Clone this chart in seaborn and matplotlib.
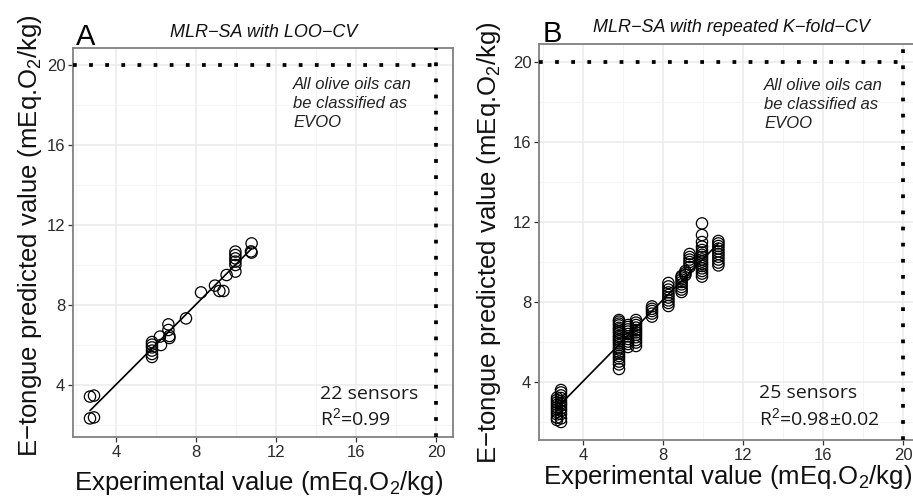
import numpy as np
import pandas as pd
import matplotlib
matplotlib.use("Agg")
import matplotlib.pyplot as plt
import seaborn as sns

# ---------------- data ----------------
# Panel A: MLR-SA with LOO-CV (experimental vs predicted)
loo_x = [2.7, 2.9, 2.7, 2.9,
         5.8, 5.8, 5.8, 5.8, 5.8, 5.8,
         6.2, 6.25, 6.62, 6.62, 6.67, 6.67,
         7.5, 8.25, 8.95, 9.17, 9.37, 9.53,
         9.97, 9.97, 9.97, 9.97, 9.97, 9.97,
         10.78, 10.78, 10.75]
loo_y = [3.42, 3.47, 2.33, 2.38,
         6.15, 6.02, 5.88, 5.72, 5.55, 5.4,
         6.42, 6.0, 7.03, 6.75, 6.45, 6.35,
         7.33, 8.63, 8.97, 8.7, 8.7, 9.5,
         10.67, 10.5, 10.33, 10.17, 10.0, 9.67,
         11.08, 10.62, 10.68]

# Panel B: MLR-SA with repeated K-fold-CV (values per oil column)
kf_x_levels = [2.7, 2.9, 5.8, 6.25, 6.65, 7.45, 8.27, 8.93, 9.12, 9.33, 9.95, 10.77]
kf_y_cols = [
    [2.1, 2.22, 2.38, 2.5, 2.63, 2.74, 2.86, 2.98, 3.1, 3.22],
    [2.0, 2.18, 2.4, 2.56, 2.68, 2.82, 2.93, 3.05, 3.2, 3.33, 3.48, 3.6],
    [4.65, 4.88, 5.02, 5.18, 5.3, 5.42, 5.51, 5.63, 5.72, 5.84, 5.93,
     6.04, 6.12, 6.23, 6.31, 6.44, 6.52, 6.63, 6.71, 6.83, 6.92, 7.02, 7.1],
    [5.75, 5.9, 6.02, 6.15, 6.28, 6.4, 6.52, 6.63, 6.75, 6.85],
    [5.8, 5.97, 6.1, 6.24, 6.36, 6.48, 6.6, 6.72, 6.85, 6.97, 7.1],
    [7.27, 7.42, 7.55, 7.66, 7.78],
    [7.8, 7.95, 8.08, 8.22, 8.35, 8.48, 8.62, 8.78, 8.95],
    [8.5, 8.62, 8.75, 8.88, 9.0, 9.12, 9.22, 9.3],
    [9.35, 9.45, 9.55],
    [9.75, 9.88, 10.0, 10.12, 10.25, 10.4],
    [9.27, 9.42, 9.55, 9.68, 9.8, 9.9, 10.02, 10.13, 10.25, 10.36,
     10.48, 10.6, 10.77, 11.0, 11.35, 11.93],
    [9.83, 9.97, 10.12, 10.26, 10.4, 10.53, 10.67, 10.8, 10.93, 11.05],
]

ticks = [4, 8, 12, 16, 20]
minor_ticks = [2, 6, 10, 14, 18]
threshold = 20

titles = ["MLR−SA with LOO−CV", "MLR−SA with repeated K−fold−CV"]
panel_letters = ["A", "B"]
note_text = "All olive oils can\nbe classified as\nEVOO"
sensor_text = ["22 sensors", "25 sensors"]
r2_text = ["R$^{2}$=0.99", "R$^{2}$=0.98±0.02"]
xlabel = "Experimental value (mEq.O$_{2}$/kg)"
ylabel = "E−tongue predicted value (mEq.O$_{2}$/kg)"

kf_x = [x for x, col in zip(kf_x_levels, kf_y_cols) for _ in col]
kf_y = [y for col in kf_y_cols for y in col]

df_a = pd.DataFrame({"exp": loo_x, "pred": loo_y})
df_b = pd.DataFrame({"exp": kf_x, "pred": kf_y})

# ---------------- style ----------------
sns.set_style("white")
plt.rcParams["font.family"] = ["Liberation Sans", "DejaVu Sans"]
plt.rcParams["mathtext.fontset"] = "custom"
plt.rcParams["mathtext.rm"] = "Liberation Sans"
plt.rcParams["mathtext.it"] = "Liberation Sans:italic"

fig = plt.figure(figsize=(9.13, 4.96), dpi=100)
ax_a = fig.add_axes([73 / 913, 1 - 437 / 496, 380 / 913, 389 / 496])
ax_b = fig.add_axes([539 / 913, 1 - 440 / 496, 381 / 913, 396 / 496])

limits = [((1.85, 20.85), (1.4, 20.85)), ((1.8, 20.85), (1.1, 20.9))]
note_pos = [(12.85, 19.4), (13.05, 19.2)]
sens_pos = [(14.2, 3.3, 1.97), (12.78, 3.18, 1.85)]

for i, (ax, df) in enumerate([(ax_a, df_a), (ax_b, df_b)]):
    xl, yl = limits[i]
    ax.set_xlim(*xl)
    ax.set_ylim(*yl)
    ax.set_xticks(ticks)
    ax.set_yticks(ticks)
    ax.set_xticks(minor_ticks, minor=True)
    ax.set_yticks(minor_ticks, minor=True)
    ax.grid(True, which="major", color="#ebebeb", lw=1.1, zorder=0)
    ax.grid(True, which="minor", color="#f4f4f4", lw=0.7, zorder=0)
    ax.set_axisbelow(True)
    ax.tick_params(which="major", direction="out", length=3.5, width=0.9,
                   color="#333333", labelcolor="#2a2a2a", labelsize=12, pad=2,
                   bottom=True, left=True)
    ax.tick_params(which="minor", length=0)
    for sp in ax.spines.values():
        sp.set_color("#808080")
        sp.set_linewidth(1.3)

    # threshold dotted lines
    ax.plot([xl[0], threshold], [threshold, threshold], color="black", lw=2.7,
            linestyle=(0, (1, 3.3)), dash_capstyle="butt", zorder=3, clip_on=False)
    ax.axvline(threshold, color="black", lw=2.7, linestyle=(0, (1, 3.3)),
               dash_capstyle="butt", zorder=3)

    sns.scatterplot(data=df, x="exp", y="pred", ax=ax, marker="o", s=66,
                    facecolors="none", edgecolor="black", linewidth=0.9,
                    zorder=4, legend=False)
    sns.regplot(data=df, x="exp", y="pred", ax=ax, scatter=False, ci=None,
                line_kws=dict(color="black", lw=1.2, zorder=5))
    ax.set_xlabel("")
    ax.set_ylabel("")

    ax.text(note_pos[i][0], note_pos[i][1], note_text, ha="left", va="top",
            fontsize=12, style="italic", color="#222222", linespacing=1.32)
    sx, sy1, sy2 = sens_pos[i]
    ax.text(sx, sy1, sensor_text[i], ha="left", va="baseline", fontsize=14,
            family=["Open Sans", "DejaVu Sans"], color="#1a1a1a")
    ax.text(sx, sy2, r2_text[i], ha="left", va="baseline", fontsize=14,
            family=["Open Sans", "DejaVu Sans"], color="#1a1a1a")

# titles & panel letters
fig.text(264 / 913, 1 - 37 / 496, titles[0], ha="center", va="baseline",
         fontsize=13, style="italic", color="#111111")
fig.text(731 / 913, 1 - 32 / 496, titles[1], ha="center", va="baseline",
         fontsize=13, style="italic", color="#111111")
fig.text(76 / 913, 1 - 45 / 496, panel_letters[0], ha="left", va="baseline",
         fontsize=21, color="black")
fig.text(543 / 913, 1 - 42 / 496, panel_letters[1], ha="left", va="baseline",
         fontsize=21, color="black")

# axis labels
fig.text(259 / 913, 1 - 490 / 496, xlabel, ha="center", va="baseline",
         fontsize=18.5, color="#111111")
fig.text(728 / 913, 1 - 484 / 496, xlabel, ha="center", va="baseline",
         fontsize=18.5, color="#111111")
fig.text(30 / 913, 1 - 236 / 496, ylabel, ha="center", va="center",
         rotation=90, fontsize=18.5, color="#111111")
fig.text(489 / 913, 1 - 243 / 496, ylabel, ha="center", va="center",
         rotation=90, fontsize=18.5, color="#111111")

fig.savefig("out.png", dpi=100)
